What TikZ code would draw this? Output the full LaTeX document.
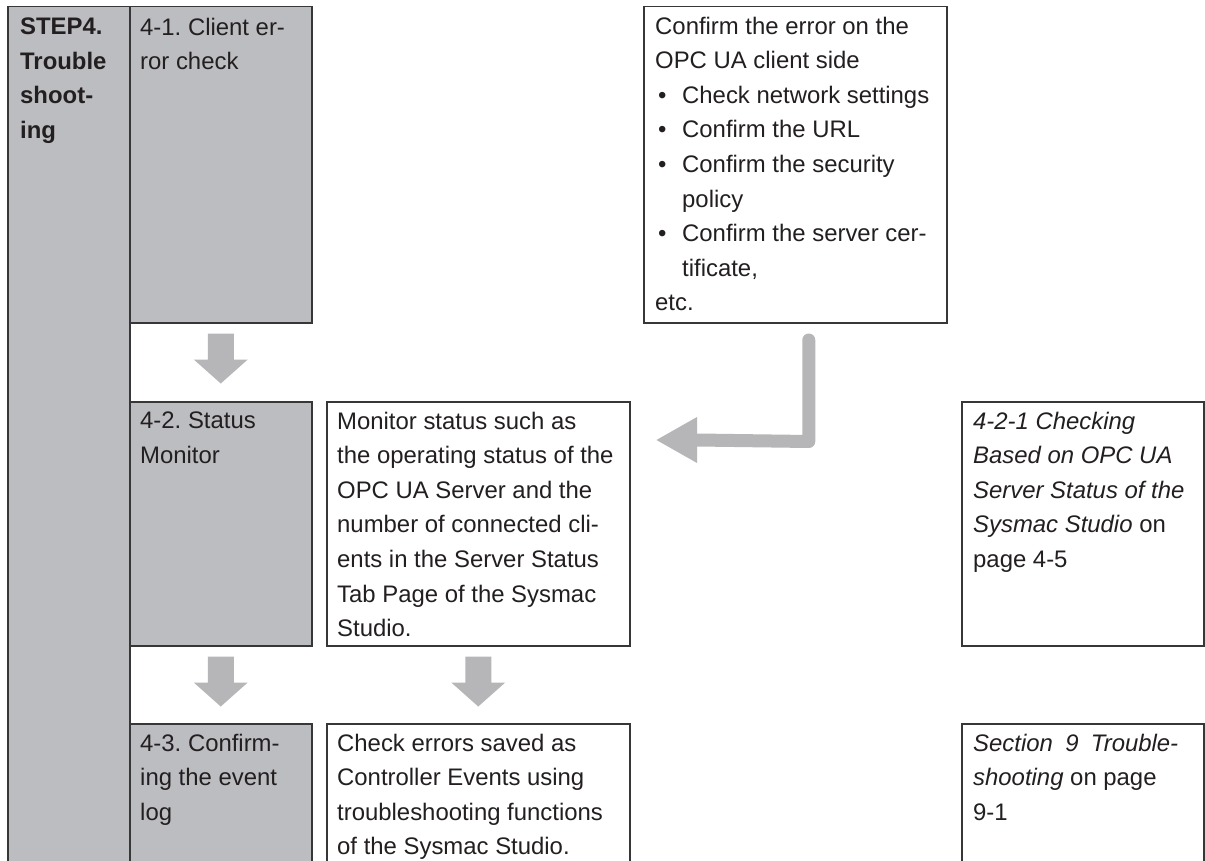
\documentclass[tikz,border=0pt]{standalone}
\usepackage{fontspec}
\setmainfont{Liberation Sans}
\usetikzlibrary{calc}
\frenchspacing
\definecolor{boxgray}{RGB}{188,189,192}
\definecolor{arrgray}{RGB}{182,182,184}
\definecolor{edgecol}{RGB}{55,55,55}
\definecolor{ink}{RGB}{35,31,32}
\newcommand\mybul{\makebox[27pt][l]{\hspace{3pt}•}}
\newcommand\myind{\hspace*{27pt}}
\newcommand\downblock[1]{\fill[arrgray] ($(#1)+(-13,10)$) -- ++(26,0) -- ++(0,26) -- ++(14,0) -- ++(-27,24) -- ++(-27,-24) -- ++(14,0) -- cycle;}
\tikzset{
  box/.style={draw=edgecol, line width=1.5pt, rectangle, inner sep=0pt, anchor=north west},
  gbox/.style={box, fill=boxgray},
  wbox/.style={box, fill=white},
  txt/.style={anchor=north west, inner sep=0pt, align=left, text=ink, font=\frenchspacing\fontsize{23.9pt}{34.6pt}\selectfont},
}
\begin{document}
\begin{tikzpicture}[x=1pt,y=-1pt]
\useasboundingbox (0,0) rectangle (1205,861);
\clip (0,0) rectangle (1205,861);
\fill[white] (0,0) rectangle (1205,861);
% boxes
\node[gbox, minimum width=122pt, minimum height=880pt] (step) at (7,6) {};
\node[gbox, minimum width=182pt, minimum height=316pt] (b41) at (129,6) {};
\node[wbox, minimum width=303pt, minimum height=316pt] (tr) at (643,6) {};
\node[gbox, minimum width=182pt, minimum height=244pt] (b42) at (129,401) {};
\node[wbox, minimum width=303pt, minimum height=244pt] (m42) at (326,401) {};
\node[wbox, minimum width=242pt, minimum height=244pt] (r42) at (961,401) {};
\node[gbox, minimum width=182pt, minimum height=200pt] (b43) at (129,723) {};
\node[wbox, minimum width=303pt, minimum height=200pt] (m43) at (326,723) {};
\node[wbox, minimum width=242pt, minimum height=200pt] (r43) at (961,723) {};
% texts
\node[txt, font=\frenchspacing\bfseries\fontsize{23.9pt}{34.6pt}\selectfont] (tstep) at ($(step.north west)+(13,11.6)$) {STEP4.\\Trouble\\shoot-\\ing};
\node[txt] (t41) at ($(b41.north west)+(11,11.6)$) {4-1. Client er-\\ror check};
\node[txt] (ttr) at ($(tr.north west)+(12,10.6)$) {Confirm the error on the\\OPC UA client side\\\mybul Check network settings\\\mybul Confirm the URL\\\mybul Confirm the security\\\myind policy\\\mybul Confirm the server cer-\\\myind tificate,\\etc.};
\node[txt] (t42) at ($(b42.north west)+(11,10.6)$) {4-2. Status\\Monitor};
\node[txt] (tm42) at ($(m42.north west)+(11,10.6)$) {Monitor status such as\\the operating status of the\\OPC UA Server and the\\number of connected cli-\\ents in the Server Status\\Tab Page of the Sysmac\\Studio.};
\node[txt] (tr42) at ($(r42.north west)+(12,10.6)$) {\textit{4-2-1 Checking}\\\textit{Based on OPC UA}\\\textit{Server Status of the}\\\textit{Sysmac Studio} on\\page 4-5};
\node[txt] (t43) at ($(b43.north west)+(11,10.6)$) {4-3. Confirm-\\ing the event\\log};
\node[txt] (tm43) at ($(m43.north west)+(11,10.6)$) {Check errors saved as\\Controller Events using\\troubleshooting functions\\of the Sysmac Studio.};
\node[txt] (tr43) at ($(r43.north west)+(12,10.6)$) {\makebox[205pt][s]{\itshape Section 9 Trouble-}\\\textit{shooting} on page\\9-1};
% block arrows
\downblock{b41.south}
\downblock{b42.south}
\downblock{m42.south}
% bent arrow
\coordinate (bstart) at ($(tr.south)+(13.5,16.5)$);
\coordinate (bcorner) at ($(tr.south)+(13.5,118)$);
\coordinate (bbase) at (697,440);
\coordinate (btip) at ($(m42.east |- bbase)+(26,0)$);
\draw[arrgray, line width=13pt, line cap=round, line join=round] (bstart) -- (bcorner) -- (bbase);
\fill[arrgray] ($(bbase)+(0,-23)$) -- (btip) -- ($(bbase)+(0,23)$) -- cycle;
\end{tikzpicture}
\end{document}
